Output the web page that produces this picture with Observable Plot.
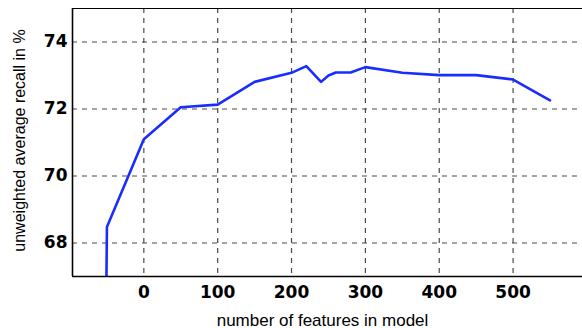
<!DOCTYPE html>
<html>
<head>
<meta charset="utf-8">
<script src="https://cdn.jsdelivr.net/npm/d3@7"></script>
<script src="https://cdn.jsdelivr.net/npm/@observablehq/plot@0.6"></script>
<style>
  html, body { margin: 0; padding: 0; background: #fff; }
  svg { display: block; }
</style>
</head>
<body>
<div id="chart"></div>
<script>
const features = [-51, -50, 0, 50, 100, 150, 200, 220, 240, 250, 260, 280, 300, 350, 400, 450, 500, 550];
const recall   = [66.0, 68.48, 71.1, 72.05, 72.13, 72.81, 73.08, 73.28, 72.81, 73.0, 73.09, 73.09, 73.25, 73.08, 73.01, 73.01, 72.88, 72.26];
const xTicks = [0, 100, 200, 300, 400, 500];
const yTicks = [68, 70, 72, 74];
const xLabel = "number of features in model";
const yLabel = "unweighted average recall in %";

const data = features.map((f, i) => ({f, r: recall[i]}));
const font = "'Liberation Sans', Arial, Helvetica, sans-serif";
const boldFont = "'DejaVu Sans', 'Liberation Sans', sans-serif";

const chart = Plot.plot({
  width: 582,
  height: 328,
  marginLeft: 72,
  marginRight: 0,
  marginTop: 8,
  marginBottom: 52,
  style: {fontFamily: font, background: "#fff", overflow: "visible"},
  x: {domain: [-96.6, 594], ticks: xTicks},
  y: {domain: [67, 75], ticks: yTicks},
  marks: [
    Plot.gridX(xTicks, {stroke: "#4a4a4a", strokeOpacity: 1, strokeWidth: 1.2, strokeDasharray: "5,5"}),
    Plot.gridY(yTicks, {stroke: "#4a4a4a", strokeOpacity: 1, strokeWidth: 1.2, strokeDasharray: "5,5"}),
    Plot.line(data, {x: "f", y: "r", stroke: "#1a2dff", strokeWidth: 2.6, clip: true}),
    Plot.ruleY([67], {stroke: "#000", strokeWidth: 1.6}),
    Plot.ruleY([75], {stroke: "#000", strokeWidth: 1.2}),
    Plot.ruleX([-96.6], {stroke: "#000", strokeWidth: 1.6}),
    Plot.axisX(xTicks, {tickSize: 0, tickPadding: 9, fontSize: 17, fontWeight: "bold", fontFamily: boldFont, fill: "#000", label: null}),
    Plot.axisY(yTicks, {tickSize: 0, tickPadding: 5, fontSize: 17, fontWeight: "bold", fontFamily: boldFont, fill: "#000", label: null}),
    Plot.text([xLabel], {text: d => d, frameAnchor: "bottom", textAnchor: "middle", lineAnchor: "bottom", dy: 49, dx: -5, fontSize: 17, fill: "#000"}),
    Plot.text([yLabel], {text: d => d, frameAnchor: "left", textAnchor: "middle", rotate: -90, lineAnchor: "middle", dx: -53, dy: -2, fontSize: 16, fill: "#000"})
  ]
});
document.getElementById("chart").appendChild(chart);
</script>
</body>
</html>
